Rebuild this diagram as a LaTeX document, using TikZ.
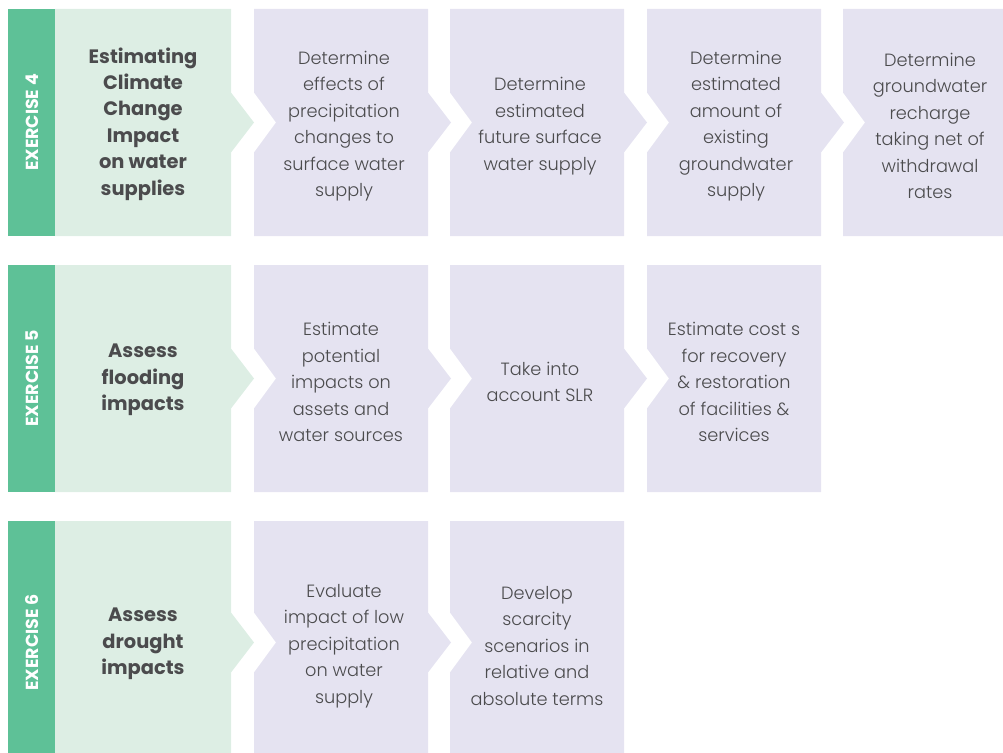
\documentclass[tikz,border=0pt]{standalone}
\usepackage{fontspec}
\setmainfont{Poppins}[UprightFont={* Light}, BoldFont={* Bold}]
\definecolor{stripe}{HTML}{5EC197}
\definecolor{lgreen}{HTML}{DDEEE4}
\definecolor{lpurple}{HTML}{E5E3F1}
\definecolor{txt}{HTML}{4B4B4D}
\newcommand\boxNA[5]{% color, x0, x1, yt, yb : notch + arrow
  \pgfmathsetmacro\yc{(#4+#5)/2}
  \fill[#1] (#2,#4) -- (#3,#4) -- (#3,\yc-30) -- (#3+23,\yc) -- (#3,\yc+30) -- (#3,#5)
    -- (#2,#5) -- (#2,\yc+30) -- (#2+22,\yc) -- (#2,\yc-30) -- cycle;}
\newcommand\boxN[5]{% notch only
  \pgfmathsetmacro\yc{(#4+#5)/2}
  \fill[#1] (#2,#4) -- (#3,#4) -- (#3,#5)
    -- (#2,#5) -- (#2,\yc+30) -- (#2+22,\yc) -- (#2,\yc-30) -- cycle;}
\newcommand\boxA[5]{% arrow only
  \pgfmathsetmacro\yc{(#4+#5)/2}
  \fill[#1] (#2,#4) -- (#3,#4) -- (#3,\yc-30) -- (#3+23,\yc) -- (#3,\yc+30) -- (#3,#5)
    -- (#2,#5) -- cycle;}
\begin{document}
\begin{tikzpicture}[x=1bp,y=-1bp,
  head/.style={rotate=90, text=white, font=\bfseries\fontsize{17.5}{20}\selectfont, inner sep=0pt},
  title/.style={align=center, text=txt, font=\bfseries\fontsize{19.5}{26.5}\selectfont, inner sep=0pt},
  body/.style={align=center, text=txt, font=\fontsize{17.8}{26.6}\selectfont, inner sep=0pt}]
\useasboundingbox (0,0) rectangle (1003,753);
\clip (0,0) rectangle (1003,753);
% Row 1
\fill[stripe] (8,9) rectangle (55,236);
\boxA{lgreen}{55}{231}{9}{236}
\boxNA{lpurple}{254}{428}{9}{236}
\boxNA{lpurple}{450}{624}{9}{236}
\boxNA{lpurple}{647}{821}{9}{236}
\boxN{lpurple}{843}{1010}{9}{236}
% Row 2
\fill[stripe] (8,265) rectangle (55,492);
\boxA{lgreen}{55}{231}{265}{492}
\boxNA{lpurple}{254}{428}{265}{492}
\boxNA{lpurple}{450}{624}{265}{492}
\boxN{lpurple}{647}{821}{265}{492}
% Row 3
\fill[stripe] (8,521) rectangle (55,764);
\boxA{lgreen}{55}{231}{521}{764}
\boxNA{lpurple}{254}{428}{521}{764}
\boxN{lpurple}{450}{624}{521}{764}
% Texts row 1
\node[head] (h4) at (32,122.5) {EXERCISE 4};
\node[title] (t4) at (143,124) {Estimating\\Climate\\Change\\Impact\\on water\\supplies};
\node[body] (a1) at (344,126) {Determine\\effects of\\precipitation\\changes to\\surface water\\supply};
\node[body] (a2) at (540,126) {Determine\\estimated\\future surface\\water supply};
\node[body] (a3) at (736,126) {Determine\\estimated\\amount of\\existing\\groundwater\\supply};
\node[body] (a4) at (930,126) {Determine\\groundwater\\recharge\\taking net of\\withdrawal\\rates};
% Texts row 2
\node[head] (h5) at (32,378.5) {EXERCISE 5};
\node[title] (t5) at (143,380) {Assess\\flooding\\impacts};
\node[body] (b1) at (341,382) {Estimate\\potential\\impacts on\\assets and\\water sources};
\node[body] (b2) at (540,382) {Take into\\account SLR};
\node[body] (b3) at (734,382) {Estimate cost s\\for recovery\\\& restoration\\of facilities \&\\services};
% Texts row 3
\node[head] (h6) at (32,642.5) {EXERCISE 6};
\node[title] (t6) at (143,644) {Assess\\drought\\impacts};
\node[body] (c1) at (344,646) {Evaluate\\impact of low\\precipitation\\on water\\supply};
\node[body] (c2) at (537,646) {Develop\\scarcity\\scenarios in\\relative and\\absolute terms};
\end{tikzpicture}
\end{document}
